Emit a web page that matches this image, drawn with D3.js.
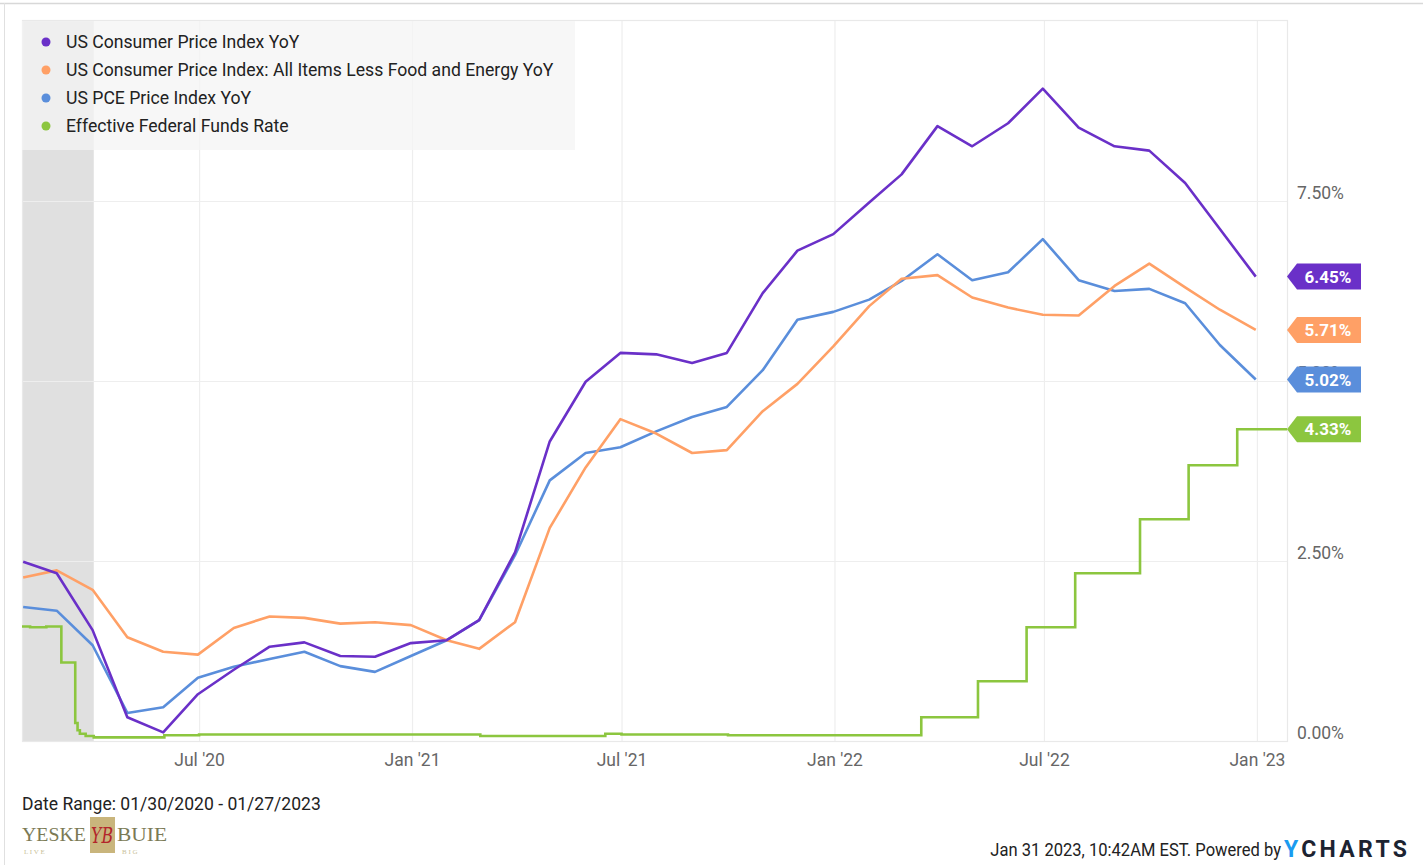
<!DOCTYPE html>
<html>
<head>
<meta charset="utf-8">
<title>Inflation vs Fed Funds</title>
<script src="https://cdn.jsdelivr.net/npm/d3@7"></script>
<style>
  body { margin: 0; background: #fff; font-family: Roboto, "Open Sans", sans-serif; }
  svg { display: block; }
</style>
</head>
<body>
<svg id="chart" width="1423" height="865"></svg>
<script>
// monthly series, plotted at month end
const months = d3.timeMonths(new Date(2020, 0, 1), new Date(2023, 0, 1)).map(d => d3.timeDay.offset(d3.timeMonth.offset(d, 1), -1));

const cpiYoY = [2.49, 2.33, 1.54, 0.33, 0.12, 0.65, 0.99, 1.31, 1.37, 1.18, 1.17, 1.36,
  1.40, 1.68, 2.62, 4.16, 4.99, 5.39, 5.37, 5.25, 5.39, 6.22, 6.81, 7.04,
  7.48, 7.87, 8.54, 8.26, 8.58, 9.06, 8.52, 8.26, 8.20, 7.75, 7.11, 6.45];

const coreCpiYoY = [2.27, 2.37, 2.10, 1.44, 1.24, 1.20, 1.57, 1.73, 1.71, 1.63, 1.65, 1.61,
  1.40, 1.28, 1.65, 2.96, 3.80, 4.47, 4.27, 4.00, 4.04, 4.58, 4.96, 5.48,
  6.04, 6.42, 6.47, 6.16, 6.02, 5.92, 5.91, 6.32, 6.63, 6.30, 5.99, 5.71];

const pceYoY = [1.86, 1.81, 1.33, 0.39, 0.47, 0.88, 1.03, 1.14, 1.24, 1.04, 0.96, 1.18,
  1.40, 1.68, 2.58, 3.62, 4.00, 4.08, 4.30, 4.50, 4.64, 5.15, 5.85, 5.96,
  6.13, 6.39, 6.76, 6.40, 6.51, 6.97, 6.40, 6.25, 6.28, 6.08, 5.50, 5.02];

// effective fed funds rate, change points (step after)
const fedDates = ["2020-01-30", "2020-02-06", "2020-02-20", "2020-03-04", "2020-03-16", "2020-03-18", "2020-03-20", "2020-03-25", "2020-04-01",
  "2020-05-01", "2020-06-01", "2020-07-01", "2020-10-01", "2021-01-04", "2021-03-01", "2021-06-17", "2021-07-01", "2021-10-01",
  "2022-01-03", "2022-03-17", "2022-05-05", "2022-06-16", "2022-07-28", "2022-09-22", "2022-11-03", "2022-12-15", "2023-01-27"];
const fedRate = [1.59, 1.58, 1.59, 1.09, 0.25, 0.15, 0.10, 0.07, 0.05,
  0.05, 0.08, 0.09, 0.09, 0.09, 0.07, 0.10, 0.09, 0.08,
  0.08, 0.33, 0.83, 1.58, 2.33, 3.08, 3.83, 4.33, 4.33];

const yTicks = [0, 2.5, 5, 7.5];
const xTickDates = ["2020-07-01", "2021-01-01", "2021-07-01", "2022-01-01", "2022-07-01", "2023-01-01"];
const xTickLabels = ["Jul '20", "Jan '21", "Jul '21", "Jan '22", "Jul '22", "Jan '23"];

const seriesNames = ["US Consumer Price Index YoY", "US Consumer Price Index: All Items Less Food and Energy YoY",
  "US PCE Price Index YoY", "Effective Federal Funds Rate"];
const seriesColors = ["#6a30c8", "#ffa066", "#5a8edb", "#8cc63f"];
const recession = ["2020-01-30", "2020-04-01"];

const parse = d3.utcParse("%Y-%m-%d");
const svg = d3.select("#chart");
const pLeft = 22, pRight = 1287, pTop = 21, pBottom = 741;
const font = "Roboto, sans-serif";

const x = d3.scaleTime()
  .domain([new Date(2020, 0, 30), new Date(2023, 0, 27)])
  .range([pLeft, pRight]);
const y = d3.scaleLinear().domain([0, 10]).range([pBottom, pTop]);
const toLocal = s => { const d = parse(s); return new Date(d.getUTCFullYear(), d.getUTCMonth(), d.getUTCDate()); };

// outer frame
svg.append("line").attr("x1", 0).attr("x2", 1423).attr("y1", 3.5).attr("y2", 3.5).attr("stroke", "#d8d8d8").attr("stroke-width", 1.5);
svg.append("line").attr("x1", 4.5).attr("x2", 4.5).attr("y1", 3).attr("y2", 865).attr("stroke", "#e0e0e0");

// recession band
svg.append("rect")
  .attr("x", x(toLocal(recession[0]))).attr("y", pTop)
  .attr("width", x(toLocal(recession[1])) - x(toLocal(recession[0])))
  .attr("height", pBottom - pTop).attr("fill", "#e0e0e0");

// grid
svg.append("g").selectAll("line").data(yTicks).join("line")
  .attr("x1", pLeft).attr("x2", pRight)
  .attr("y1", d => y(d) + 0.5).attr("y2", d => y(d) + 0.5)
  .attr("stroke", "#eeeeee").attr("stroke-width", 1.2);
svg.append("g").selectAll("line").data(xTickDates).join("line")
  .attr("x1", d => x(toLocal(d)) + 0.5).attr("x2", d => x(toLocal(d)) + 0.5)
  .attr("y1", pTop).attr("y2", pBottom)
  .attr("stroke", "#eeeeee").attr("stroke-width", 1.2);
svg.append("rect").attr("x", pLeft + 0.5).attr("y", pTop - 0.5).attr("width", pRight - pLeft).attr("height", pBottom - pTop + 1)
  .attr("fill", "none").attr("stroke", "#e9e9e9").attr("stroke-width", 1.2);

// axes labels
const axisY = d3.axisRight(y).tickValues(yTicks).tickSize(0).tickPadding(0).tickFormat(d => d3.format(".2f")(d) + "%");
const gy = svg.append("g").attr("transform", `translate(${pRight + 10},0)`).call(axisY);
gy.select(".domain").remove();
gy.selectAll("text").attr("dy", "-0.15em").attr("fill", "#666").style("font-size", "17.5px").style("font-family", font);

const axisX = d3.axisBottom(x).tickValues(xTickDates.map(toLocal)).tickSize(0).tickPadding(0)
  .tickFormat((d, i) => xTickLabels[i]);
const gx = svg.append("g").attr("transform", `translate(0,${pBottom + 13})`).call(axisX);
gx.select(".domain").remove();
gx.selectAll("text").attr("fill", "#666").style("font-size", "17.5px").style("font-family", font);

// lines
const line = d3.line().x(d => x(d[0])).y(d => y(d[1]));
const monthly = [cpiYoY, coreCpiYoY, pceYoY];
[2, 1, 0].forEach(i => {
  svg.append("path").datum(months.map((m, k) => [m, monthly[i][k]]))
    .attr("d", line).attr("fill", "none").attr("stroke", seriesColors[i])
    .attr("stroke-width", 2.6).attr("stroke-linejoin", "round");
});
const fedLine = d3.line().curve(d3.curveStepAfter).x(d => x(d[0])).y(d => y(d[1]));
svg.append("path").datum(fedDates.map((d, k) => [toLocal(d), fedRate[k]]))
  .attr("d", fedLine).attr("fill", "none").attr("stroke", seriesColors[3]).attr("stroke-width", 2.6);

// legend
svg.append("rect").attr("x", pLeft).attr("y", pTop).attr("width", 553).attr("height", 129)
  .attr("fill", "#f4f4f4").attr("fill-opacity", 0.75);
const lg = svg.append("g").selectAll("g").data(seriesNames).join("g")
  .attr("transform", (d, i) => `translate(46,${42 + i * 28})`);
lg.append("circle").attr("r", 4.5).attr("fill", (d, i) => seriesColors[i]);
lg.append("text").attr("transform", "translate(20,0) scale(0.953,1)").attr("dy", "0.35em").text(d => d)
  .attr("fill", "#222").style("font-size", "18.5px").style("font-family", font);

// end value callouts
const lastVals = [cpiYoY[35], coreCpiYoY[35], pceYoY[35], fedRate[fedRate.length - 1]];
const callouts = svg.append("g").selectAll("g").data(lastVals).join("g")
  .attr("transform", d => `translate(${pRight},${y(d)})`);
callouts.append("path")
  .attr("d", "M0,0 L10,-13 L74,-13 L74,13 L10,13 Z")
  .attr("fill", (d, i) => seriesColors[i]);
callouts.append("text").attr("x", 41).attr("dy", "0.36em").attr("text-anchor", "middle")
  .text(d => d3.format(".2f")(d) + "%")
  .attr("fill", "#fff").style("font-size", "17px").style("font-weight", "bold").style("font-family", font);

// footer
svg.append("text").attr("transform", "translate(22,810) scale(0.95,1)").text("Date Range: 01/30/2020 - 01/27/2023")
  .attr("fill", "#222").style("font-size", "18.5px").style("font-family", font);

const logo = svg.append("g").attr("transform", "translate(22,841)");
logo.append("rect").attr("x", 68).attr("y", -24).attr("width", 25).attr("height", 36).attr("fill", "#c9b57c");
logo.append("text").attr("x", 80).attr("y", 2).attr("text-anchor", "middle").text("YB")
  .attr("textLength", 22).attr("lengthAdjust", "spacingAndGlyphs")
  .attr("fill", "#b3262b").style("font-size", "22px").style("font-style", "italic").style("font-family", "DejaVu Serif, serif");
logo.append("text").attr("x", 0).attr("y", 0).text("YESKE")
  .attr("textLength", 64).attr("lengthAdjust", "spacingAndGlyphs")
  .attr("fill", "#7b7a55").style("font-size", "19px").style("font-family", "Liberation Serif, serif");
logo.append("text").attr("x", 95).attr("y", 0).text("BUIE")
  .attr("textLength", 50).attr("lengthAdjust", "spacingAndGlyphs")
  .attr("fill", "#7b7a55").style("font-size", "19px").style("font-family", "Liberation Serif, serif");
logo.append("text").attr("x", 2).attr("y", 13).text("L     I     V     E")
  .attr("fill", "#c9bf99").style("font-size", "7px").style("font-family", "Liberation Serif, serif");
logo.append("text").attr("x", 100).attr("y", 13).text("B     I     G")
  .attr("fill", "#c9bf99").style("font-size", "7px").style("font-family", "Liberation Serif, serif");

svg.append("text").attr("transform", "translate(1281,856) scale(0.92,1)").attr("text-anchor", "end")
  .attr("fill", "#222").style("font-size", "18px").style("font-family", font)
  .text("Jan 31 2023, 10:42AM EST. Powered by");
const yc = svg.append("text").attr("x", 1284).attr("y", 857)
  .style("font-size", "23px").style("font-weight", "bold").style("letter-spacing", "3.3px").style("font-family", font);
yc.append("tspan").attr("fill", "#1a9bf0").text("Y");
yc.append("tspan").attr("fill", "#1c2331").text("CHARTS");
</script>
</body>
</html>
